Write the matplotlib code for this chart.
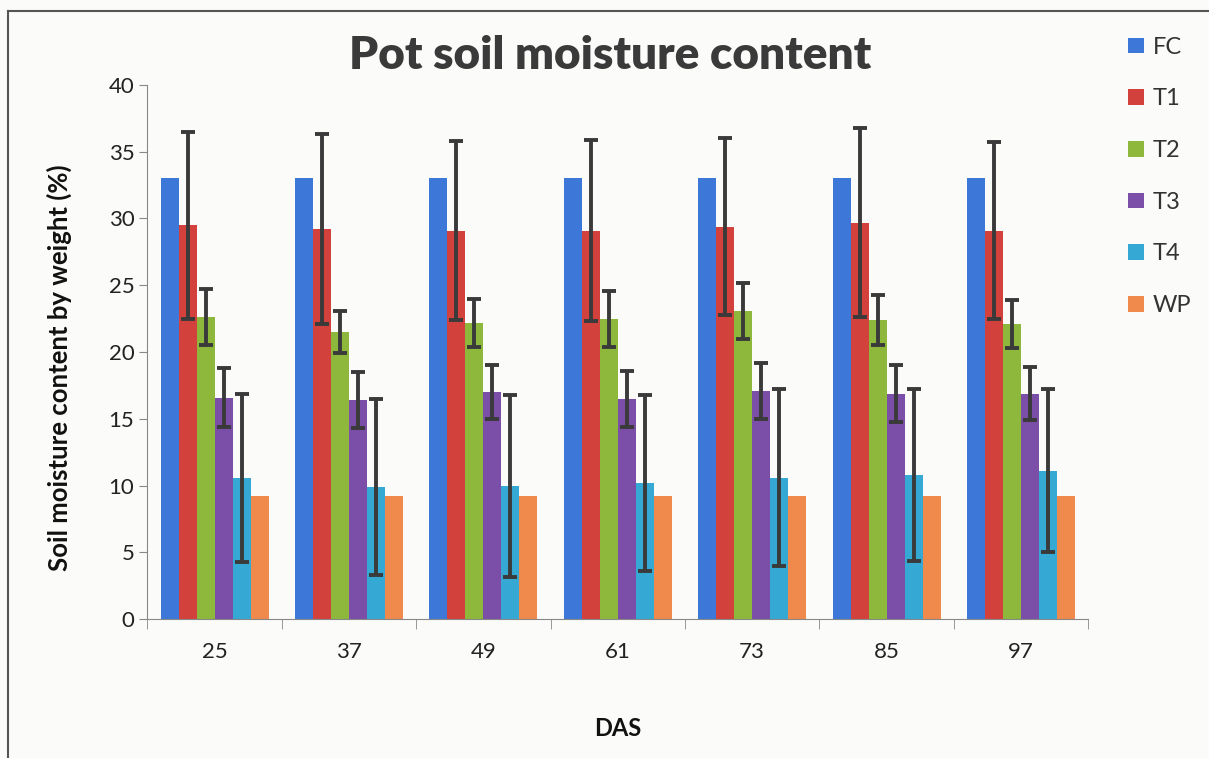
import matplotlib.pyplot as plt
import numpy as np

das = ['25', '37', '49', '61', '73', '85', '97']
series = ['FC', 'T1', 'T2', 'T3', 'T4', 'WP']

fc = [33.0, 33.0, 33.0, 33.0, 33.0, 33.0, 33.0]
t1 = [29.5, 29.2, 29.1, 29.1, 29.4, 29.7, 29.1]
t2 = [22.6, 21.5, 22.2, 22.5, 23.1, 22.4, 22.1]
t3 = [16.6, 16.4, 17.0, 16.5, 17.1, 16.9, 16.9]
t4 = [10.6, 9.9, 10.0, 10.2, 10.6, 10.8, 11.1]
wp = [9.2, 9.2, 9.2, 9.2, 9.2, 9.2, 9.2]

t1_err = [7.0, 7.1, 6.7, 6.8, 6.6, 7.1, 6.6]
t2_err = [2.1, 1.6, 1.8, 2.1, 2.1, 1.9, 1.8]
t3_err = [2.2, 2.1, 2.0, 2.1, 2.1, 2.1, 2.0]
t4_err = [6.3, 6.6, 6.8, 6.6, 6.6, 6.4, 6.1]

values = [fc, t1, t2, t3, t4, wp]
errors = [None, t1_err, t2_err, t3_err, t4_err, None]
colors = ['#3d78d8', '#d2413c', '#8db83c', '#7b4ea8', '#35a9d4', '#f08a4c']

plt.rcParams['font.family'] = ['Lato', 'DejaVu Sans']

fig = plt.figure(figsize=(12.09, 7.58), dpi=100, facecolor='#fbfbf9')
ax = fig.add_axes([0.122, 0.183, 0.778, 0.705])
ax.set_facecolor('#fbfbf9')

x = np.arange(len(das))
w = 0.134
for i, (name, vals, err, c) in enumerate(zip(series, values, errors, colors)):
    pos = x - 2.5 * w + i * w
    ax.bar(pos, vals, width=w, color=c, label=name)
    if err is not None:
        ax.errorbar(pos, vals, yerr=err, fmt='none', ecolor='#3a3a3a',
                    elinewidth=2.8, capsize=5, capthick=2.8)

ax.set_xlim(-0.5, len(das) - 0.5)
ax.set_ylim(0, 40)
ax.set_yticks(range(0, 41, 5))
ax.set_xticks(x)
ax.set_xticklabels(das)
ax.set_xticks(np.arange(-0.5, len(das)), minor=True)
ax.tick_params(axis='x', which='major', length=0, pad=16, labelsize=16, colors='#222222')
ax.tick_params(axis='x', which='minor', length=7, color='#888888')
ax.tick_params(axis='y', length=6, color='#888888', labelsize=16, labelcolor='#222222')

for s in ['top', 'right']:
    ax.spines[s].set_visible(False)
for s in ['left', 'bottom']:
    ax.spines[s].set_color('#888888')

ax.set_ylabel('Soil moisture content by weight (%)', fontsize=18.5, fontweight='bold',
              color='#111111')
ax.yaxis.set_label_coords(-0.08, 0.47)
ax.set_xlabel('DAS', fontsize=17, fontweight='bold', color='#111111', labelpad=40)

fig.text(0.505, 0.927, 'Pot soil moisture content', fontsize=33, fontweight='heavy',
         color='#3a3a3a', ha='center', va='center')

ax.legend(loc='upper left', bbox_to_anchor=(1.02, 1.13), frameon=False,
          fontsize=17, handlelength=0.65, handleheight=0.65, labelspacing=1.3,
          handletextpad=0.4, labelcolor='#333333')

# page frame from the scan
fig.add_artist(plt.Line2D([0.007, 0.007], [0, 0.985], color='#555555', lw=1.5))
fig.add_artist(plt.Line2D([0.007, 1.0], [0.985, 0.985], color='#555555', lw=1.5))

fig.savefig('out.png', dpi=100, facecolor=fig.get_facecolor())
